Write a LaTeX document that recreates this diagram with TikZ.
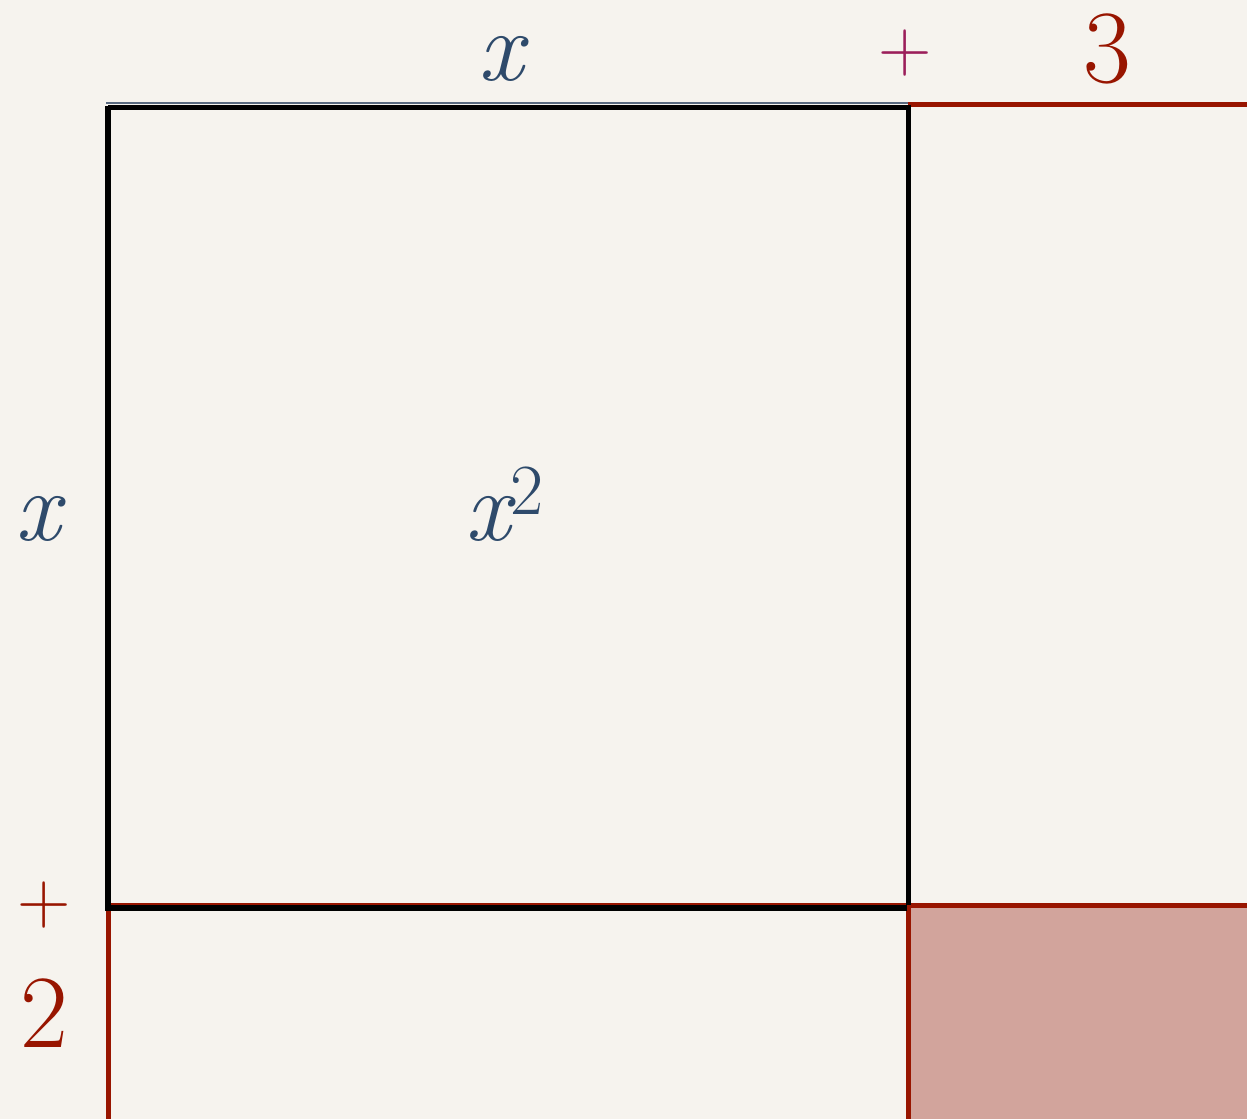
\documentclass[tikz,border=0pt]{standalone}
\usepackage{fontspec}
\usepackage{xcolor}
\definecolor{bg}{HTML}{F6F3EE}
\definecolor{lblue}{HTML}{2E4A6B}
\definecolor{dred}{HTML}{981500}
\definecolor{plum}{HTML}{9B1E5A}
\definecolor{rose}{HTML}{D2A49C}
\definecolor{edgeblue}{HTML}{5A6A80}
\tikzset{
  lbl/.style={inner sep=0pt, outer sep=0pt},
  big/.style={font=\fontsize{52}{60}\selectfont},
  varx/.style={font=\fontsize{50}{58}\selectfont\itshape},
  plusfont/.style={font=\fontsize{37}{44}\selectfont},
  redline/.style={draw=dred, line width=2.7pt},
  blackline/.style={draw=black, line width=2.6pt}
}
\begin{document}
\begin{tikzpicture}[x=0.5pt,y=-0.5pt]
\useasboundingbox (0,0) rectangle (1247,1119);
\fill[bg] (0,0) rectangle (1247,1119);
% shaded corner
\fill[rose] (908,905) rectangle (1247,1119);
% red lines
\draw[redline] (908,104.5) -- (1247,104.5);
\draw[redline] (108.3,905.3) -- (1247,905.3);
\draw[redline] (108.3,905.3) -- (108.3,1119);
\draw[redline] (908.5,905.3) -- (908.5,1119);
% thin bluish edge on top
\draw[edgeblue, line width=0.6pt] (106,103) -- (908,103);
% black square
\draw[blackline] (108,107.5) -- (908.5,107.5) -- (908.5,905);
\draw[blackline] (108,106.2) -- (108,908) -- (907,908);
% labels
\node[lbl, varx, text=lblue, anchor=base] (xtop) at (501,80) {x};
\node[lbl, plusfont, text=plum] (plustop) at (905,53) {+};
\node[lbl, big, text=dred] (three) at (1107,49) {3};
\node[lbl, varx, text=lblue, anchor=base] (xleft) at (38,540) {x};
\node[lbl, varx, text=lblue, anchor=base west] (xsq) at (465,540) {x\raisebox{13pt}{\fontsize{36}{40}\selectfont\upshape 2}};
\node[lbl, plusfont, text=dred] (plusleft) at (44.5,905) {+};
\node[lbl, big, text=dred] (two) at (44,1013) {2};
\end{tikzpicture}
\end{document}
